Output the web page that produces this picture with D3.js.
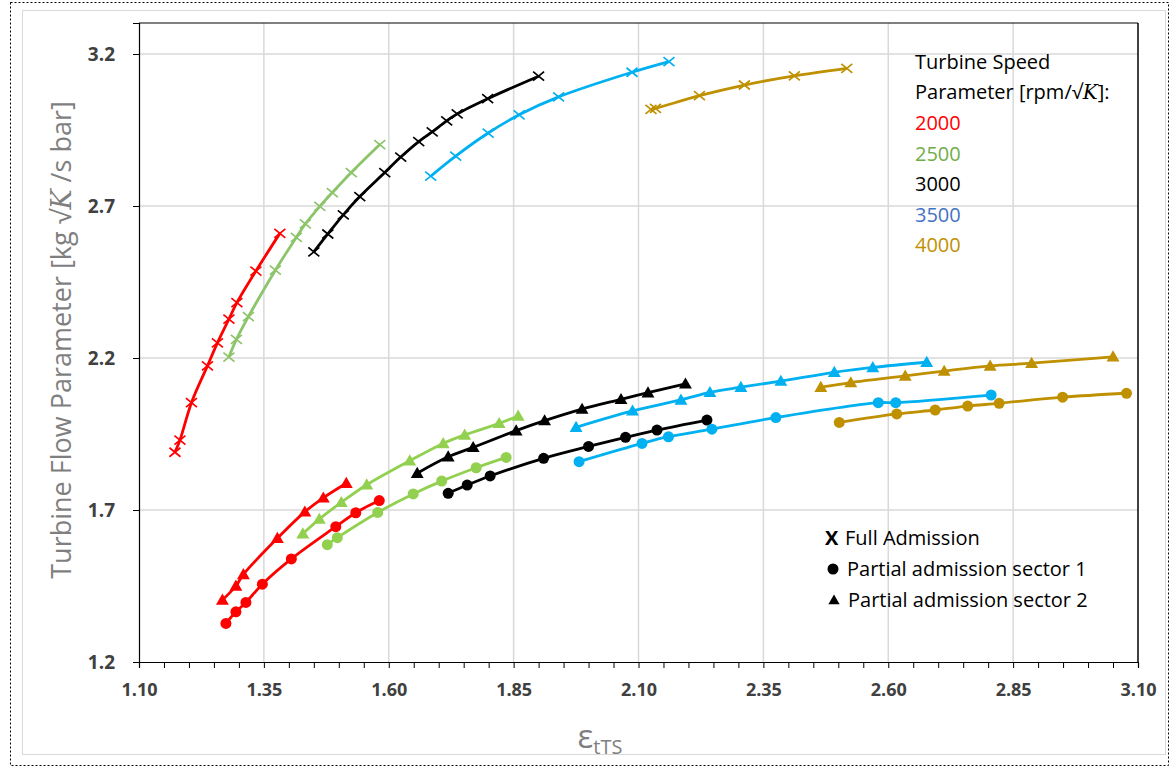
<!DOCTYPE html>
<html><head><meta charset="utf-8">
<script src="https://cdn.jsdelivr.net/npm/d3@7"></script>
<style>
html,body{margin:0;padding:0;background:#fff;}
svg{display:block;font-family:Lato,"Open Sans",sans-serif;}
</style></head>
<body><svg id="c" width="1176" height="769"></svg>
<script>
// ---- data: [pressure ratio, flow parameter] ----
const speeds = ["2000","2500","3000","3500","4000"];
const lineColors = ["#FF0000","#92D050","#000000","#00B0F0","#BF9000"];
const legendColors = ["#FF0000","#70AD47","#000000","#4472C4","#BF9000"];
const xTicks = [1.10,1.35,1.60,1.85,2.10,2.35,2.60,2.85,3.10];
const yTicks = [1.2,1.7,2.2,2.7,3.2];

const full_2000 = [[1.172,1.890],[1.182,1.930],[1.205,2.053],[1.237,2.174],[1.257,2.250],[1.280,2.328],[1.296,2.382],[1.334,2.486],[1.382,2.610]];
const full_2500 = [[1.280,2.203],[1.295,2.261],[1.319,2.336],[1.373,2.489],[1.415,2.597],[1.433,2.641],[1.462,2.699],[1.487,2.744],[1.525,2.810],[1.582,2.902]];
const full_3000 = [[1.450,2.549],[1.478,2.608],[1.509,2.671],[1.542,2.731],[1.592,2.810],[1.624,2.861],[1.660,2.912],[1.687,2.944],[1.716,2.980],[1.737,3.003],[1.798,3.053],[1.900,3.127]];
const full_3500 = [[1.684,2.798],[1.734,2.864],[1.799,2.940],[1.861,3.000],[1.940,3.059],[2.087,3.140],[2.161,3.175]];
const full_4000 = [[2.125,3.018],[2.134,3.021],[2.222,3.063],[2.312,3.098],[2.412,3.128],[2.517,3.153]];

const sec1_2000 = [[1.274,1.327],[1.294,1.365],[1.314,1.396],[1.347,1.456],[1.405,1.539],[1.494,1.645],[1.534,1.691],[1.581,1.731]];
const sec1_2500 = [[1.477,1.586],[1.497,1.609],[1.578,1.692],[1.649,1.753],[1.706,1.795],[1.775,1.839],[1.835,1.873]];
const sec1_3000 = [[1.719,1.755],[1.757,1.782],[1.803,1.812],[1.910,1.870],[2.000,1.909],[2.074,1.939],[2.137,1.963],[2.237,1.996]];
const sec1_3500 = [[1.981,1.859],[2.107,1.919],[2.160,1.941],[2.247,1.966],[2.375,2.004],[2.580,2.053],[2.615,2.053],[2.806,2.078]];
const sec1_4000 = [[2.502,1.988],[2.617,2.016],[2.694,2.029],[2.759,2.042],[2.822,2.051],[2.949,2.071],[3.077,2.084]];

const sec2_2000 = [[1.267,1.404],[1.294,1.450],[1.309,1.488],[1.377,1.607],[1.432,1.694],[1.469,1.740],[1.515,1.788]];
const sec2_2500 = [[1.428,1.622],[1.461,1.670],[1.505,1.725],[1.556,1.783],[1.642,1.862],[1.709,1.919],[1.752,1.947],[1.821,1.985],[1.859,2.009]];
const sec2_3000 = [[1.657,1.821],[1.719,1.875],[1.769,1.906],[1.855,1.961],[1.912,1.994],[1.987,2.032],[2.065,2.064],[2.119,2.086],[2.194,2.115]];
const sec2_3500 = [[1.975,1.972],[2.088,2.026],[2.185,2.062],[2.243,2.087],[2.305,2.104],[2.385,2.124],[2.492,2.153],[2.569,2.169],[2.677,2.186]];
const sec2_4000 = [[2.465,2.104],[2.525,2.119],[2.634,2.141],[2.712,2.157],[2.804,2.174],[2.887,2.183],[3.050,2.204]];

const fullSeries = [full_2000,full_2500,full_3000,full_3500,full_4000];
const sec1Series = [sec1_2000,sec1_2500,sec1_3000,sec1_3500,sec1_4000];
const sec2Series = [sec2_2000,sec2_2500,sec2_3000,sec2_3500,sec2_4000];
const fullColors = ["#FF0000","#8CC46A","#000000","#00B0F0","#BF9000"];

// ---- drawing ----
const svg = d3.select("#c");
const L=139, R=1138, T=23, B=662;
const x = d3.scaleLinear().domain([1.10,3.10]).range([L,R]);
const y = d3.scaleLinear().domain([1.2,3.302]).range([B,T]);

// outer frames
svg.append("rect").attr("x",10.5).attr("y",2.5).attr("width",1158).attr("height",763)
  .attr("fill","none").attr("stroke","#000").attr("stroke-width",1).attr("stroke-dasharray","2,2");
svg.append("rect").attr("x",22.5).attr("y",10.5).attr("width",1143).attr("height",744)
  .attr("fill","none").attr("stroke","#d9d9d9").attr("stroke-width",1);

// gridlines
const grid = svg.append("g");
grid.selectAll(".gx").data(xTicks.slice(1,-1)).enter().append("line")
  .attr("x1",d=>x(d)).attr("x2",d=>x(d)).attr("y1",T).attr("y2",B)
  .attr("stroke","#d9d9d9").attr("stroke-width",1.5);
grid.selectAll(".gy").data(yTicks.slice(1)).enter().append("line")
  .attr("x1",L).attr("x2",R).attr("y1",d=>y(d)).attr("y2",d=>y(d))
  .attr("stroke","#d9d9d9").attr("stroke-width",1.5);

// plot box top & right
svg.append("line").attr("x1",L).attr("x2",R).attr("y1",T).attr("y2",T).attr("stroke","#000").attr("stroke-width",1);
svg.append("line").attr("x1",R).attr("x2",R).attr("y1",T).attr("y2",B).attr("stroke","#000").attr("stroke-width",1.5);

// axes
const minorX = d3.range(0,41).map(i=>1.10+i*0.05);
const xAxis = d3.axisBottom(x).tickValues(minorX).tickSize(6).tickFormat(()=>"");
svg.append("g").attr("transform",`translate(0,${B})`).call(xAxis)
  .call(g=>{g.select(".domain").attr("stroke","#000").attr("stroke-width",1.2);g.selectAll(".tick line").attr("stroke","#000");});
const xLab = d3.axisBottom(x).tickValues(xTicks).tickSize(0).tickPadding(21).tickFormat(d3.format(".2f"));
svg.append("g").attr("transform",`translate(0,${B})`).call(xLab)
  .call(g=>{g.select(".domain").remove();g.selectAll("text").attr("font-size",18).attr("font-weight","bold").attr("fill","#404040").attr("font-family","'Open Sans',sans-serif");});

const yAxis = d3.axisLeft(y).tickValues(yTicks).tickSize(6).tickPadding(18).tickFormat(d3.format(".1f"));
svg.append("g").attr("transform",`translate(${L},0)`).call(yAxis)
  .call(g=>{g.select(".domain").attr("stroke","#000").attr("stroke-width",1.2);g.selectAll(".tick line").attr("stroke","#000");
    g.selectAll("text").attr("font-size",19).attr("font-weight","bold").attr("fill","#404040").attr("font-family","'Open Sans',sans-serif");});

// axis titles
const yt = svg.append("text").attr("transform","translate(71,340) rotate(-90)").attr("text-anchor","middle")
  .attr("font-size",27).attr("fill","#7f7f7f").attr("font-family","'Open Sans',sans-serif");
yt.append("tspan").text("Turbine Flow Parameter [kg √");
yt.append("tspan").attr("font-style","italic").attr("font-family","'DejaVu Serif',serif").text("K");
yt.append("tspan").text(" /s bar]");
const xt = svg.append("text").attr("x",600).attr("y",748).attr("text-anchor","middle").attr("fill","#7f7f7f").attr("font-family","'Open Sans',sans-serif");
xt.append("tspan").attr("font-size",33).text("ε");
xt.append("tspan").attr("font-size",20).attr("dy",6).text("tTS");

// curves
const line = d3.line().x(d=>x(d[0])).y(d=>y(d[1])).curve(d3.curveCatmullRom.alpha(0.5));
const plot = svg.append("g");
function drawLines(series, colors){
  series.forEach((s,i)=>{
    plot.append("path").datum(s).attr("d",line).attr("fill","none")
      .attr("stroke",colors[i]).attr("stroke-width",2.8).attr("stroke-linejoin","round");
  });
}
drawLines(fullSeries, fullColors);
drawLines(sec1Series, lineColors);
drawLines(sec2Series, lineColors);

// markers
const triangle = d3.symbol().type(d3.symbolTriangle).size(72);
fullSeries.forEach((s,i)=>{
  plot.selectAll(null).data(s).enter().append("path")
    .attr("d",d=>{const cx=x(d[0]),cy=y(d[1]);return `M${cx-5.5},${cy-4.5}L${cx+5.5},${cy+4.5}M${cx-5.5},${cy+4.5}L${cx+5.5},${cy-4.5}`;})
    .attr("stroke",fullColors[i]).attr("stroke-width",1.7).attr("fill","none");
});
sec1Series.forEach((s,i)=>{
  plot.selectAll(null).data(s).enter().append("circle")
    .attr("cx",d=>x(d[0])).attr("cy",d=>y(d[1])).attr("r",5.5).attr("fill",lineColors[i]);
});
sec2Series.forEach((s,i)=>{
  plot.selectAll(null).data(s).enter().append("path").attr("d",triangle)
    .attr("transform",d=>`translate(${x(d[0])},${y(d[1])+1})`).attr("fill",lineColors[i]);
});

// legend: speeds
const lg = svg.append("g").attr("font-family","'Open Sans',sans-serif").attr("font-size",20);
lg.append("text").attr("x",915).attr("y",69).attr("fill","#000").text("Turbine Speed");
const p2 = lg.append("text").attr("x",915).attr("y",99).attr("fill","#000");
p2.append("tspan").text("Parameter [rpm/√");
p2.append("tspan").attr("font-style","italic").attr("font-family","'DejaVu Serif',serif").text("K");
p2.append("tspan").text("]:");
speeds.forEach((s,i)=>{
  lg.append("text").attr("x",915).attr("y",130+i*30.5).attr("fill",legendColors[i]).text(s);
});

// legend: admission types
const lg2 = svg.append("g").attr("font-family","'Open Sans',sans-serif").attr("font-size",20).attr("fill","#000");
lg2.append("text").attr("x",825).attr("y",545).attr("font-weight","bold").text("X");
lg2.append("text").attr("x",845).attr("y",545).text("Full Admission");
lg2.append("circle").attr("cx",833).attr("cy",569).attr("r",5.5).attr("fill","#000");
lg2.append("text").attr("x",847).attr("y",576).text("Partial admission sector 1");
lg2.append("path").attr("d",d3.symbol().type(d3.symbolTriangle).size(55)).attr("transform","translate(834,601)").attr("fill","#000");
lg2.append("text").attr("x",848).attr("y",607).text("Partial admission sector 2");
</script></body></html>
